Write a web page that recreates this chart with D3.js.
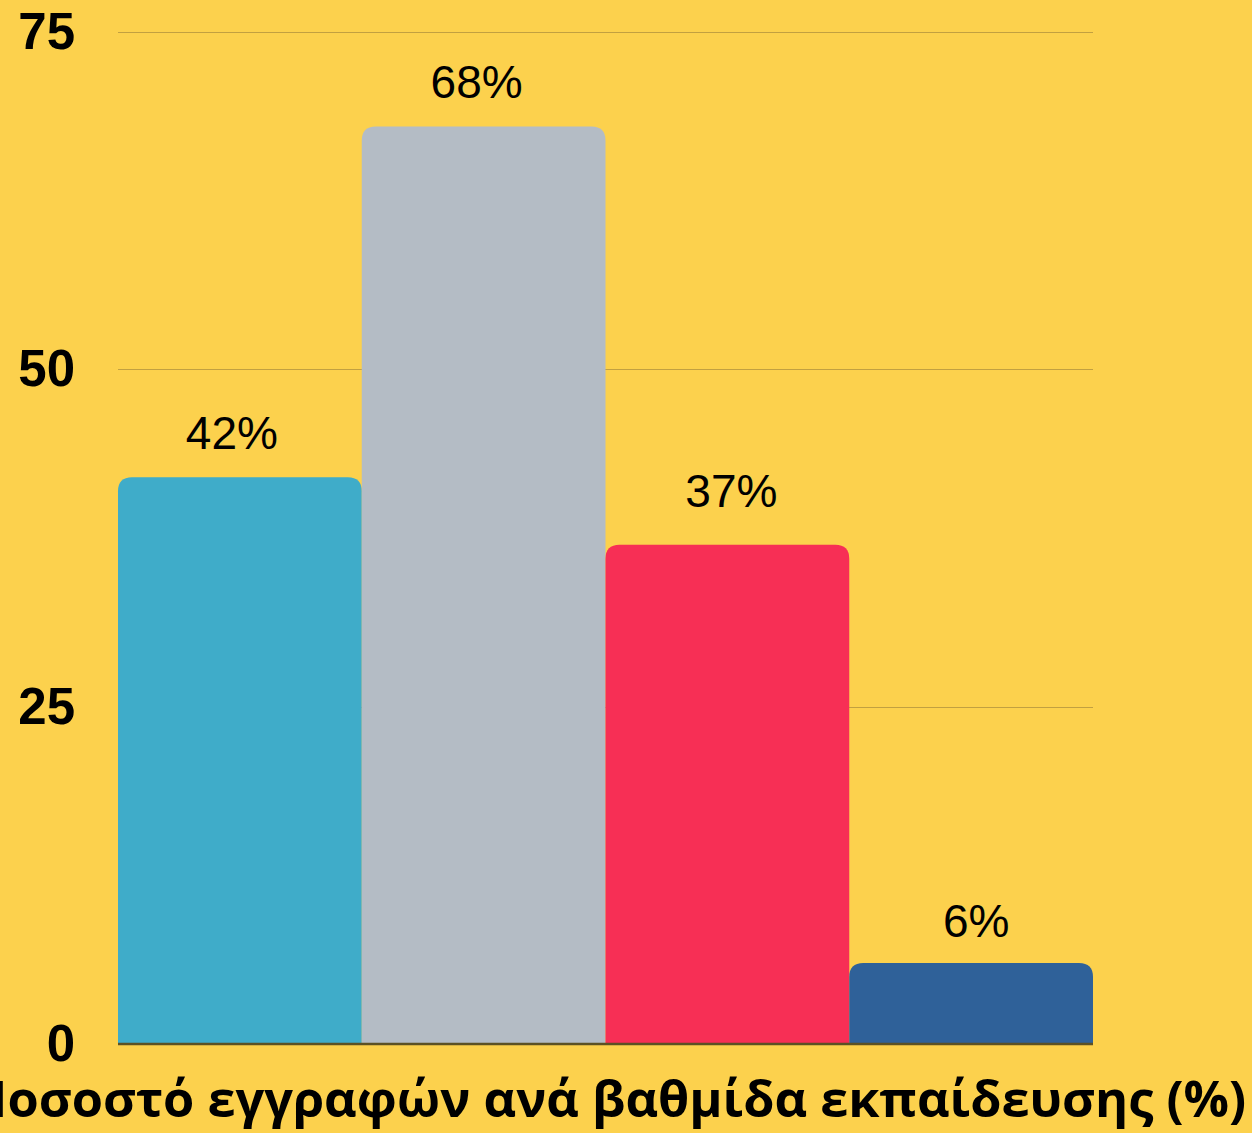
<!DOCTYPE html>
<html><head><meta charset="utf-8">
<script src="https://cdn.jsdelivr.net/npm/d3@7"></script>
<style>html,body{margin:0;padding:0;background:#FCD14D;}svg{display:block;}</style>
</head><body>
<svg id="chart" width="1252" height="1133"></svg>
<script>
const categories = ["Προσχολική", "Πρωτοβάθμια", "Δευτεροβάθμια", "Τριτοβάθμια"];
const values = [42, 68, 37, 6];
const colors = ["#3FACC9", "#B4BCC5", "#F72F55", "#2F6199"];
const yTicks = [0, 25, 50, 75];
const title = "Ποσοστό εγγραφών ανά βαθμίδα εκπαίδευσης (%)";

// layout nudges for the value labels (dx, dy in px), matching the reference placement
const labelNudgeX = [-8, -7, 4, 5];
const labelGap = [28, 28, 38, 26];

const svg = d3.select("#chart");
const W = 1252, H = 1133;
svg.append("rect").attr("width", W).attr("height", H).attr("fill", "#FCD14D");

const mLeft = 118, mRight = 1093, mTop = 32, mBottom = 1044;
const x = d3.scaleBand().domain(categories).range([mLeft, mRight]).padding(0);
const y = d3.scaleLinear().domain([0, 75]).range([mBottom, mTop]);

// gridlines
svg.append("g").selectAll("line").data(yTicks.filter(d => d > 0)).join("line")
  .attr("x1", mLeft).attr("x2", mRight)
  .attr("y1", d => Math.round(y(d)) + 0.5).attr("y2", d => Math.round(y(d)) + 0.5)
  .attr("stroke", "#C2A040").attr("stroke-width", 1.2);

// bars with rounded top corners
const r = 14;
function barPath(d, i) {
  const x0 = x(categories[i]), w = x.bandwidth(), y0 = y(d), yb = y(0);
  const rr = Math.min(r, (yb - y0));
  return `M${x0},${yb} L${x0},${y0 + rr} Q${x0},${y0} ${x0 + rr},${y0} L${x0 + w - rr},${y0} Q${x0 + w},${y0} ${x0 + w},${y0 + rr} L${x0 + w},${yb} Z`;
}
svg.append("g").selectAll("path").data(values).join("path")
  .attr("d", barPath)
  .attr("fill", (d, i) => colors[i]);

// value labels
svg.append("g").selectAll("text").data(values).join("text")
  .attr("x", (d, i) => x(categories[i]) + x.bandwidth() / 2 + labelNudgeX[i])
  .attr("y", (d, i) => y(d) - labelGap[i])
  .attr("text-anchor", "middle")
  .attr("font-family", "Liberation Sans, Arial, sans-serif")
  .attr("font-size", 46)
  .attr("fill", "#000")
  .text(d => d + "%");

// axis baseline
svg.append("line").attr("x1", mLeft).attr("x2", mRight)
  .attr("y1", mBottom).attr("y2", mBottom)
  .attr("stroke", "#5C5124").attr("stroke-width", 2.5);

// y tick labels
svg.append("g").selectAll("text").data(yTicks).join("text")
  .attr("x", 75)
  .attr("y", d => y(d) + 17)
  .attr("text-anchor", "end")
  .attr("font-family", "Liberation Sans, Arial, sans-serif")
  .attr("font-weight", "bold")
  .attr("font-size", 51)
  .attr("fill", "#000")
  .text(d => d);

// title
svg.append("text")
  .attr("x", 608).attr("y", 1117)
  .attr("text-anchor", "middle")
  .attr("font-family", "Open Sans, Noto Sans, sans-serif")
  .attr("font-weight", "bold")
  .attr("font-size", 50.5)
  .attr("fill", "#000")
  .text(title);
</script>
</body></html>
